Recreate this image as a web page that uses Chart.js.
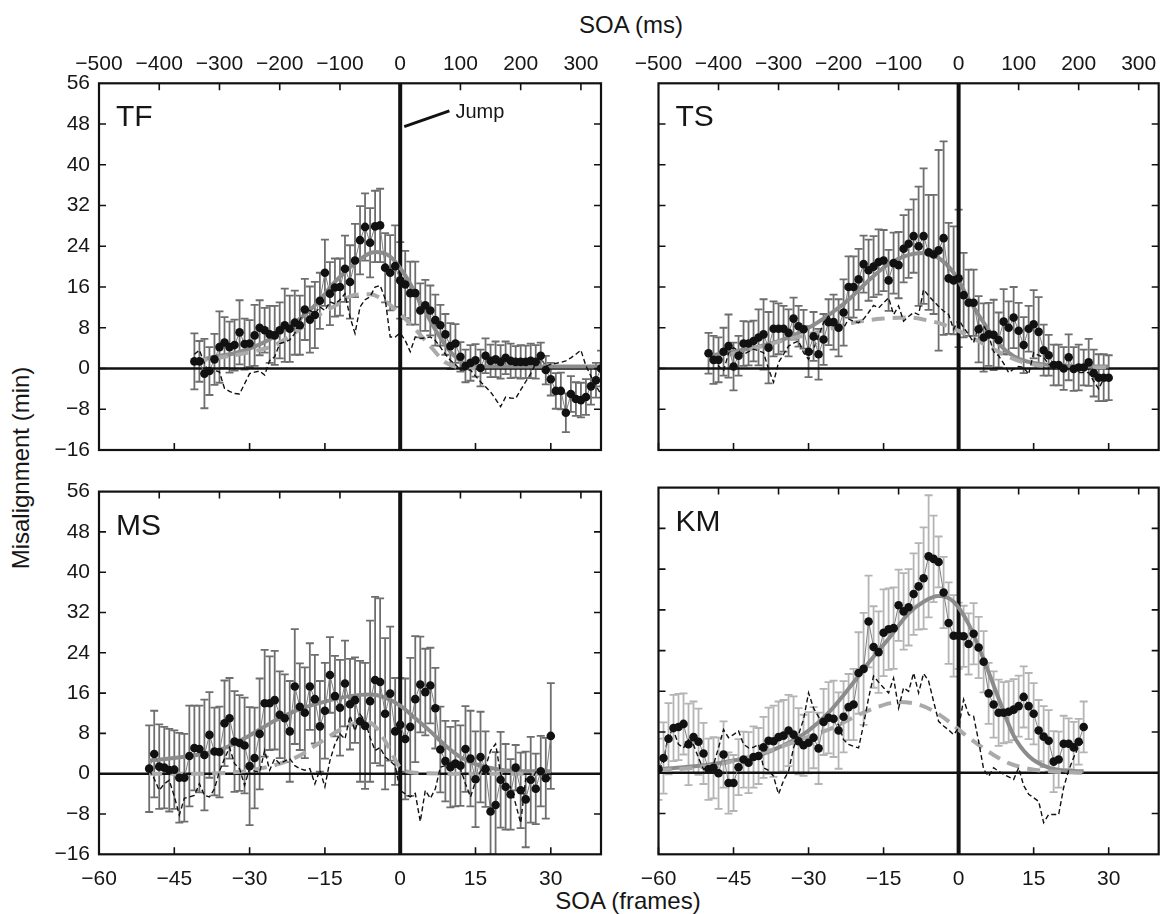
<!DOCTYPE html>
<html>
<head>
<meta charset="utf-8">
<script src="https://cdn.jsdelivr.net/npm/chart.js@4.4.1/dist/chart.umd.min.js"></script>
<style>
  body { margin: 0; background: #fff; width: 1163px; height: 914px; overflow: hidden; position: relative;
         font-family: "Liberation Sans", Arial, sans-serif; color: #161616; }
  canvas { position: absolute; }
  .ttl { position: absolute; font-size: 24px; white-space: nowrap; transform: translate(-50%, -50%); }
  .ylab { transform: translate(-50%, -50%) rotate(-90deg); }
</style>
</head>
<body>
<div class="ttl" style="left:631px; top:25px;">SOA (ms)</div>
<div class="ttl" style="left:628px; top:901px;">SOA (frames)</div>
<div class="ttl ylab" style="left:21px; top:468px;">Misalignment (min)</div>

<canvas id="cTF" width="612" height="440" style="left:0; top:40px;"></canvas>
<canvas id="cTS" width="543" height="440" style="left:620px; top:40px;"></canvas>
<canvas id="cMS" width="612" height="444" style="left:0; top:470px;"></canvas>
<canvas id="cKM" width="543" height="444" style="left:620px; top:470px;"></canvas>

<script>
// axis ticks
const frameTicks = [-60, -45, -30, -15, 0, 15, 30];
const msTicks = [-500, -400, -300, -200, -100, 0, 100, 200, 300];
const yTicks = [-16, -8, 0, 8, 16, 24, 32, 40, 48, 56];
const FRAME_MS = 1000 / 120;

function range(a, b) { const out = []; for (let i = a; i <= b; i++) out.push(i); return out; }

// ---- TF ----
const tfFrames = range(-41, 40);
const tfMean = [1.4, 1.4, -1.0, -0.5, 1.8, 4.2, 5.1, 4.2, 4.6, 7.1,
  4.8, 4.9, 6.5, 8.0, 7.5, 6.7, 6.5, 7.5, 8.5, 7.8,
  9.0, 8.5, 11.6, 9.6, 10.5, 13.3, 18.8, 14.7, 15.9, 16.0,
  19.6, 17.0, 21.2, 25.2, 27.8, 24.7, 27.9, 28.1, 19.8, 18.8,
  20.1, 17.3, 16.5, 14.8, 14.8, 11.4, 12.4, 11.4, 9.5, 8.5,
  6.7, 4.4, 4.9, 2.3, 0.5, 1.1, 1.6, 0.1, 2.5, 1.5,
  1.8, 1.3, 2.1, 1.5, 1.3, 1.3, 1.3, 1.5, 1.3, 2.5,
  -0.3, -2.1, -4.4, -4.4, -8.7, -5.0, -6.0, -6.2, -5.6, -3.5,
  -2.3, 0.0];
const tfErr = [5.5, 4.0, 6.8, 4.7, 5.0, 7.0, 5.0, 5.0, 5.0, 6.3,
  5.0, 4.6, 6.0, 5.4, 4.4, 5.6, 5.8, 5.5, 7.2, 6.5,
  6.3, 5.8, 6.0, 6.5, 6.5, 5.5, 6.5, 6.2, 5.7, 5.6,
  6.5, 7.2, 7.2, 6.7, 6.6, 6.8, 7.0, 7.2, 6.8, 7.4,
  8.0, 7.5, 6.6, 6.2, 6.2, 5.3, 5.0, 4.9, 5.0, 4.0,
  4.0, 4.5, 3.8, 2.9, 3.2, 3.5, 3.2, 3.6, 3.4, 3.2,
  3.5, 3.3, 3.2, 3.4, 3.1, 3.3, 3.2, 3.4, 3.3, 2.6,
  2.8, 3.2, 3.5, 3.6, 3.8, 3.5, 3.3, 3.4, 3.5, 3.6,
  3.4, 3.5];
const tfRaw = [2.8, 3.6, 1.0, -1.0, -0.3, -0.7, -3.9, -4.5, -4.9, -5.0,
  -3.0, -1.0, -0.7, -0.5, -1.3, 1.6, 2.3, 4.9, 5.2, 5.6,
  6.9, 9.5, 11.4, 11.4, 10.8, 12.1, 11.4, 13.1, 12.7, 13.5,
  14.7, 10.1, 6.9, 12.1, 13.5, 14.1, 16.0, 16.3, 13.7, 6.2,
  6.2, 7.0, 5.5, 3.3, 6.2, 5.9, 6.0, 6.2, 5.5, 4.2,
  2.8, 1.6, 0.8, -0.3, -0.3, -0.3, -1.5, -2.6, -3.6, -4.6,
  -6.0, -7.5, -5.6, -5.8, -5.9, -4.2, -2.6, -1.0, 1.0, 2.0,
  0.5, 0.8, 1.0, 1.2, 1.5, 2.1, 2.8, 3.6, 0.5, -1.5,
  -3.5, -5.0];
const tfFitX = [-41, -37, -33, -29, -25, -21, -17, -13, -9, -5, -2, 1, 4, 7, 10, 13, 16, 20, 25, 30, 35, 40];
const tfFit = [1.3, 2.3, 3.0, 4.3, 6.3, 9.0, 12.4, 17.0, 20.7, 22.9, 22.0, 18.3, 13.0, 7.6, 3.3, 0.9, 0.4, 0.4, 0.4, 0.4, 0.4, 0.4];
const tfModelX = [-41, -37, -33, -29, -25, -21, -17, -13, -9, -6, -3, 0, 3, 6, 9, 12, 15];
const tfModel = [1.3, 2.0, 2.6, 3.4, 4.6, 7.0, 10.0, 12.3, 14.5, 14.6, 13.2, 10.7, 7.7, 4.4, 1.2, 0.2, 0.0];

// ---- TS ----
const tsFrames = range(-50, 30);
const tsMean = [3.0, 1.7, 1.7, 3.3, 4.4, 0.4, 2.5, 4.9, 4.9, 5.4,
  6.1, 6.7, 4.1, 7.8, 7.8, 7.8, 7.0, 9.8, 8.3, 7.7,
  3.3, 6.3, 2.8, 5.7, 9.1, 9.1, 8.0, 11.0, 16.0, 16.0,
  17.5, 20.5, 19.3, 20.0, 20.9, 21.2, 17.3, 20.7, 20.3, 23.5,
  24.5, 26.0, 24.0, 26.0, 22.8, 22.4, 23.2, 25.6, 17.7, 17.3,
  17.7, 14.4, 12.9, 12.9, 7.7, 6.1, 6.7, 6.6, 5.6, 9.2,
  8.0, 10.0, 7.4, 4.6, 7.8, 8.7, 7.2, 3.6, 2.6, 0.7,
  0.7, 0.0, 2.2, -0.1, 0.2, 0.2, 1.2, -0.9, -1.8, -1.8,
  -1.8];
const tsErr = [4.0, 4.7, 4.4, 4.7, 6.2, 4.7, 3.9, 4.4, 4.3, 4.0,
  5.5, 6.9, 7.0, 5.4, 5.0, 4.5, 4.6, 4.1, 4.0, 3.8,
  5.0, 4.8, 5.0, 5.0, 4.5, 5.4, 5.6, 6.5, 6.0, 6.0,
  6.0, 5.6, 6.0, 6.0, 6.4, 6.0, 6.0, 6.0, 6.5, 6.6,
  6.7, 7.2, 11.7, 13.3, 11.3, 11.7, 19.7, 19.0, 10.9, 10.6,
  13.5, 8.3, 6.5, 6.5, 6.5, 6.7, 6.2, 6.9, 5.4, 6.4,
  5.2, 6.0, 5.5, 5.5, 4.5, 6.7, 6.8, 5.0, 4.0, 4.0,
  4.0, 4.2, 4.5, 4.3, 4.5, 3.5, 4.6, 4.6, 4.6, 4.6,
  4.4];
const tsRaw = [3.1, 1.5, 0.5, -0.5, 3.0, 4.1, 3.5, 2.8, 3.3, 3.8,
  3.5, 3.1, -0.1, -2.7, 1.2, 2.8, 4.4, 5.0, 5.4, 3.1,
  1.8, 3.8, 6.4, 9.0, 10.3, 9.0, 8.5, 8.0, 9.7, 9.3,
  9.0, 9.7, 11.0, 12.4, 11.9, 12.9, 13.9, 10.6, 12.3, 9.3,
  10.2, 11.0, 10.6, 15.5, 14.3, 13.2, 12.2, 11.3, 10.6, 7.7,
  9.7, 8.0, 6.7, 5.1, 8.5, 8.5, 6.5, 3.3, 2.5, 1.0,
  -0.8, -0.1, 0.4, 0.2, -1.1, 3.1, 2.6, 2.2, 0.8, 0.7,
  0.6, 0.5, 0.0, -0.5, -0.8, -0.8, -0.8, -2.5, -4.0, -2.0,
  -0.8];
const tsFitX = [-50, -45, -40, -35, -30, -26, -22, -18, -14, -10, -7, -4, -1, 2, 5, 8, 11, 14, 18, 22, 26, 30];
const tsFit = [2.5, 3.3, 4.3, 5.7, 8.0, 10.5, 13.5, 17.3, 20.5, 22.3, 22.7, 21.7, 18.8, 13.7, 9.0, 4.9, 2.4, 1.3, 0.7, 0.5, 0.4, 0.4];
const tsModelX = [-50, -45, -40, -35, -30, -25, -20, -15, -10, -6, -3, 0, 3, 6, 9, 12, 15, 20, 25, 30];
const tsModel = [1.8, 2.9, 4.2, 5.5, 6.7, 8.0, 9.2, 9.8, 10.0, 9.4, 8.6, 7.4, 5.9, 4.3, 2.8, 1.5, 0.8, 0.3, 0.2, 0.2];

// ---- MS ----
const msFrames = range(-50, 30);
const msMean = [1.0, 3.9, 1.4, 1.2, 0.7, 0.8, -0.8, -0.8, 3.5, 5.1,
  4.9, 3.7, 7.7, 4.4, 4.3, 10.0, 11.0, 6.4, 6.1, 5.6,
  1.5, 3.1, 7.9, 14.0, 14.0, 14.6, 11.7, 11.0, 8.4, 17.3,
  13.3, 12.1, 17.3, 14.8, 9.4, 12.5, 19.6, 15.4, 13.1, 17.9,
  13.8, 14.6, 10.4, 9.5, 14.4, 18.6, 18.2, 11.9, 15.9, 8.4,
  9.7, 6.9, 9.3, 14.8, 17.7, 16.2, 17.5, 13.0, 4.8, 2.5,
  1.3, 2.0, 1.6, 4.9, 3.0, -1.1, 3.3, 0.9, -7.5, -6.2,
  -1.2, -2.6, -4.1, 1.2, -3.3, -5.1, -1.2, -3.0, 0.5, -0.9,
  7.5];
const msErr = [8.6, 8.6, 8.4, 8.1, 8.2, 7.8, 8.9, 8.7, 10.0, 8.4,
  8.6, 11.0, 8.5, 8.7, 9.0, 8.5, 8.0, 10.0, 9.5, 9.5,
  11.7, 10.0, 11.0, 10.6, 9.3, 9.8, 8.6, 8.7, 10.0, 11.4,
  8.6, 9.0, 8.6, 8.8, 9.0, 9.5, 7.5, 8.0, 9.5, 8.5,
  9.0, 8.5, 12.0, 12.5, 16.0, 16.5, 16.6, 15.0, 13.3, 10.6,
  9.3, 12.0, 13.7, 12.5, 9.5, 8.6, 7.5, 8.0, 8.5, 8.0,
  8.0, 8.5, 8.0, 8.5, 9.5, 9.5, 9.0, 7.5, 8.5, 10.5,
  9.5, 8.5, 7.0, 4.5, 7.5, 9.5, 8.5, 7.0, 7.0, 8.0,
  10.5];
const msRaw = [0.7, -1.0, -3.3, -2.0, -1.3, -4.5, -8.2, -4.9, -4.6, -4.3,
  -2.0, -4.3, -4.6, -3.0, 0.5, 3.0, 5.2, 2.0, 1.0, -2.3,
  1.0, 0.5, 0.3, 4.6, 0.7, 3.0, 2.0, 2.5, 3.0, 1.6,
  1.0, 0.7, 1.0, -2.0, 0.7, -2.6, 2.6, 5.9, 7.9, 6.9,
  11.5, 8.5, 11.8, 10.5, 7.2, 4.6, 5.2, 3.3, 2.5, 1.6,
  -3.3, -4.0, -4.6, -3.9, -9.5, -3.3, -4.9, -3.0, 1.3, 1.6,
  2.2, 2.6, 1.0, -2.0, -4.6, -1.6, 0.5, 1.3, 4.6, 5.9,
  0.0, -3.3, -2.6, -6.0, -9.8, -1.0, -1.6, 0.3, 0.0, -0.5,
  -1.0];
const msFitX = [-50, -45, -40, -35, -30, -25, -20, -15, -10, -6, -3, 0, 3, 6, 9, 12, 15, 20, 25, 30];
const msFit = [2.6, 3.1, 3.8, 5.1, 7.6, 10.5, 12.8, 14.3, 15.4, 15.7, 15.1, 13.5, 11.0, 8.4, 5.6, 3.3, 1.9, 0.8, 0.5, 0.5];
const msModelX = [-50, -40, -36, -32, -28, -24, -20, -16, -12, -9, -7, -5, -3, -1, 0, 2, 5, 10, 20, 30];
const msModel = [0.0, 0.0, 0.1, 0.4, 1.0, 2.0, 3.6, 6.2, 8.7, 10.0, 10.4, 9.4, 6.5, 2.8, 1.2, 0.3, 0.1, 0.0, 0.0, 0.0];

// ---- KM ----
const kmFrames = range(-60, 25);
const kmMean = [0.7, 2.9, 6.7, 8.8, 9.0, 9.6, 5.6, 7.0, 6.1, 3.8,
  0.7, 1.0, -0.1, 3.6, -2.0, -2.0, 1.1, 2.6, 2.0, 3.1,
  3.3, 5.0, 6.3, 6.2, 7.0, 7.3, 8.3, 7.5, 6.2, 5.4,
  5.9, 6.9, 4.8, 10.0, 10.8, 10.6, 8.3, 11.0, 12.9, 13.4,
  19.6, 20.4, 29.7, 24.7, 23.7, 27.5, 28.2, 28.4, 32.9, 31.7,
  32.5, 35.1, 36.6, 38.2, 42.5, 42.0, 41.4, 35.4, 29.4, 26.9,
  26.9, 26.8, 25.3, 27.3, 24.6, 21.8, 15.6, 13.4, 11.8, 11.8,
  12.0, 12.4, 13.1, 14.9, 13.1, 11.6, 8.3, 7.1, 6.3, 2.2,
  2.6, 5.7, 5.7, 5.0, 6.1, 9.0];
const kmErr = [6.0, 7.0, 7.0, 6.5, 6.5, 6.0, 8.0, 7.0, 6.5, 6.0,
  6.0, 6.0, 7.0, 6.5, 6.0, 5.5, 5.5, 5.5, 6.0, 6.0,
  5.5, 6.0, 6.5, 7.0, 7.0, 7.0, 7.0, 7.5, 6.5, 6.0,
  6.0, 6.0, 7.0, 6.5, 7.0, 7.5, 7.5, 7.0, 6.5, 7.0,
  8.0, 11.0, 9.0, 8.0, 8.0, 8.5, 8.0, 8.0, 7.0, 7.5,
  7.5, 8.0, 8.5, 10.0, 12.0, 8.5, 5.0, 7.0, 8.0, 8.0,
  6.5, 6.0, 6.0, 6.0, 6.0, 6.0, 6.0, 6.5, 6.5, 6.0,
  6.0, 6.0, 6.0, 6.0, 6.5, 6.0, 6.0, 6.0, 6.0, 6.0,
  5.5, 5.5, 5.0, 5.0, 4.5, 5.0];
const kmRaw = [0.7, 2.0, 7.8, 8.2, 5.6, 4.9, 6.5, 5.5, 2.9, 0.7,
  1.2, 1.6, 4.9, 8.5, 6.9, 7.5, 8.2, 5.6, 4.9, 5.0,
  5.6, 1.0, 0.5, -0.7, -4.2, -1.5, 0.3, 4.9, 7.5, 10.5,
  15.7, 12.7, 11.0, 9.5, 10.8, 9.9, 9.5, 6.5, 5.6, 5.2,
  4.9, 9.5, 14.7, 19.0, 17.8, 16.7, 15.7, 18.6, 12.7, 16.7,
  16.0, 19.6, 15.7, 19.5, 18.0, 14.0, 10.1, 9.2, 8.4, 7.5,
  8.8, 14.4, 11.4, 11.1, 6.2, 0.7, -0.7, 1.0, 0.3, -0.3,
  -0.8, -1.3, 1.0, -2.5, -4.2, -4.9, -5.6, -9.8, -8.2, -8.2,
  -8.2, -2.9, 0.5, 3.0, 5.2, 6.2];
const kmFitX = [-60, -55, -50, -45, -40, -35, -30, -26, -22, -18, -14, -10, -7, -4, -1, 2, 5, 8, 11, 14, 18, 22, 25];
const kmFit = [0.7, 1.1, 1.6, 2.4, 3.4, 5.4, 8.3, 11.8, 16.5, 21.6, 26.3, 31.3, 33.6, 34.7, 33.6, 29.2, 22.3, 14.6, 7.3, 3.3, 1.0, 0.4, 0.3];
const kmModelX = [-60, -55, -50, -45, -40, -35, -30, -25, -20, -16, -12, -8, -5, -2, 1, 4, 7, 10, 14, 18, 22, 25];
const kmModel = [0.5, 0.8, 1.3, 2.3, 3.7, 5.3, 7.1, 8.9, 11.4, 13.0, 13.9, 13.4, 12.1, 10.1, 7.7, 5.5, 3.5, 1.9, 0.8, 0.3, 0.1, 0.0];

const FONT = '"Liberation Sans", Arial, sans-serif';
Chart.defaults.font.family = FONT;
const tickFont = { family: FONT, size: 21 };
const fmt = v => String(v).replace('-', '\u2212');

const panelPlugin = {
  id: 'panel',
  beforeDatasetsDraw(chart, args, o) {
    const { ctx, chartArea: a, scales: { x, y } } = chart;
    ctx.save();
    ctx.beginPath();
    ctx.rect(a.left, a.top, a.right - a.left, a.bottom - a.top);
    ctx.clip();
    // error bars
    ctx.strokeStyle = o.errColor;
    ctx.lineWidth = 1.8;
    o.frames.forEach((f, i) => {
      const px = x.getPixelForValue(f);
      const hi = y.getPixelForValue(o.mean[i] + o.err[i]);
      const lo = y.getPixelForValue(o.mean[i] - o.err[i]);
      ctx.beginPath();
      ctx.moveTo(px, hi); ctx.lineTo(px, lo);
      ctx.moveTo(px - 4, hi); ctx.lineTo(px + 4, hi);
      ctx.moveTo(px - 4, lo); ctx.lineTo(px + 4, lo);
      ctx.stroke();
    });
    // zero lines
    ctx.strokeStyle = '#111';
    ctx.lineWidth = 2.6;
    const y0 = y.getPixelForValue(0);
    ctx.beginPath(); ctx.moveTo(a.left, y0); ctx.lineTo(a.right, y0); ctx.stroke();
    ctx.lineWidth = 4;
    const x0 = x.getPixelForValue(0);
    ctx.beginPath(); ctx.moveTo(x0, a.top); ctx.lineTo(x0, a.bottom); ctx.stroke();
    ctx.restore();
  },
  afterDatasetsDraw(chart, args, o) {
    const { ctx, chartArea: a, scales: { x, x2, y } } = chart;
    ctx.save();
    ctx.strokeStyle = '#111';
    // inner tick marks
    ctx.lineWidth = 1.6;
    const tl = 7;
    ctx.beginPath();
    frameTicks.forEach(v => {
      if (v === 0) return;
      const px = x.getPixelForValue(v);
      ctx.moveTo(px, a.bottom); ctx.lineTo(px, a.bottom - tl);
    });
    msTicks.forEach(v => {
      if (v === 0 || v === -500) return;
      const px = x2.getPixelForValue(v);
      ctx.moveTo(px, a.top); ctx.lineTo(px, a.top + tl);
    });
    yTicks.forEach(v => {
      if (v === -16 || v === 56) return;
      const py = y.getPixelForValue(v);
      ctx.moveTo(a.left, py); ctx.lineTo(a.left + tl, py);
      ctx.moveTo(a.right, py); ctx.lineTo(a.right - tl, py);
    });
    ctx.stroke();
    // box
    ctx.lineWidth = 2.2;
    ctx.strokeRect(a.left, a.top, a.right - a.left, a.bottom - a.top);
    // panel label
    ctx.fillStyle = '#161616';
    ctx.font = '30px ' + FONT;
    ctx.textBaseline = 'alphabetic';
    ctx.fillText(o.label, a.left + 17, a.top + 43);
    // "Jump" note
    if (o.jump) {
      ctx.lineWidth = 3;
      ctx.beginPath();
      ctx.moveTo(x.getPixelForValue(0.8), y.getPixelForValue(47.5));
      ctx.lineTo(x.getPixelForValue(9.8), y.getPixelForValue(50.6));
      ctx.stroke();
      ctx.font = '20px ' + FONT;
      ctx.textBaseline = 'middle';
      ctx.fillText('Jump', x.getPixelForValue(11), y.getPixelForValue(50.3));
    }
    ctx.restore();
  }
};

const pts = (xs, ys) => xs.map((v, i) => ({ x: v, y: ys[i] }));

function panel(id, p) {
  new Chart(document.getElementById(id), {
    type: 'line',
    data: {
      datasets: [
        { data: pts(p.frames, p.mean), borderColor: '#808080', borderWidth: 1,
          pointRadius: 4.3, pointBackgroundColor: '#111', pointBorderWidth: 0, order: 0 },
        { data: pts(p.frames, p.raw), borderColor: '#111', borderWidth: 1.4, borderDash: [5, 3],
          pointRadius: 0, order: 1 },
        { data: pts(p.modelX, p.model), borderColor: '#aaaaaa', borderWidth: 4, borderDash: [13, 8],
          pointRadius: 0, cubicInterpolationMode: 'monotone', order: 2 },
        { data: pts(p.fitX, p.fit), borderColor: '#8c8c8c', borderWidth: 4,
          pointRadius: 0, cubicInterpolationMode: 'monotone', order: 3 }
      ]
    },
    options: {
      responsive: false,
      animation: false,
      events: [],
      layout: { padding: { left: 0, top: 0, right: p.padR, bottom: 0 } },
      plugins: {
        legend: { display: false },
        tooltip: { enabled: false },
        panel: { label: p.label, frames: p.frames, mean: p.mean, err: p.err,
                 errColor: p.errColor, jump: !!p.jump }
      },
      scales: {
        x: {
          type: 'linear', position: 'bottom', min: -60, max: 40,
          afterBuildTicks: s => { s.ticks = frameTicks.map(v => ({ value: v })); },
          afterFit: s => { s.height = p.bottomH; },
          grid: { display: false, drawTicks: false }, border: { display: false },
          ticks: { display: p.showBottom, padding: 12, color: '#161616', font: tickFont,
                   maxRotation: 0, minRotation: 0, autoSkip: false, callback: v => fmt(v) }
        },
        x2: {
          type: 'linear', position: 'top', min: -500, max: 40 * FRAME_MS,
          afterBuildTicks: s => { s.ticks = msTicks.map(v => ({ value: v })); },
          afterFit: s => { s.height = p.topH; },
          grid: { display: false, drawTicks: false }, border: { display: false },
          ticks: { display: p.showTop, padding: 6, color: '#161616', font: tickFont,
                   maxRotation: 0, minRotation: 0, autoSkip: false, callback: v => fmt(v) }
        },
        y: {
          type: 'linear', position: 'left', min: -16, max: 56,
          afterBuildTicks: s => { s.ticks = yTicks.map(v => ({ value: v })); },
          afterFit: s => { s.width = p.leftW; },
          grid: { display: false, drawTicks: false }, border: { display: false },
          ticks: { display: p.showLeft, padding: 9, color: '#161616', font: tickFont,
                   callback: v => fmt(v) }
        }
      }
    },
    plugins: [panelPlugin]
  });
}

panel('cTF', { label: 'TF', frames: tfFrames, mean: tfMean, err: tfErr, raw: tfRaw,
  fitX: tfFitX, fit: tfFit, modelX: tfModelX, model: tfModel, errColor: '#6e6e6e', jump: true,
  showTop: true, showBottom: false, showLeft: true, leftW: 99, topH: 43.3, bottomH: 30, padR: 11 });
panel('cTS', { label: 'TS', frames: tsFrames, mean: tsMean, err: tsErr, raw: tsRaw,
  fitX: tsFitX, fit: tsFit, modelX: tsModelX, model: tsModel, errColor: '#6e6e6e',
  showTop: true, showBottom: false, showLeft: false, leftW: 38.5, topH: 43.3, bottomH: 30, padR: 2 });
panel('cMS', { label: 'MS', frames: msFrames, mean: msMean, err: msErr, raw: msRaw,
  fitX: msFitX, fit: msFit, modelX: msModelX, model: msModel, errColor: '#6e6e6e',
  showTop: false, showBottom: true, showLeft: true, leftW: 99, topH: 17.6, bottomH: 59.7, padR: 11 });
panel('cKM', { label: 'KM', frames: kmFrames, mean: kmMean, err: kmErr, raw: kmRaw,
  fitX: kmFitX, fit: kmFit, modelX: kmModelX, model: kmModel, errColor: '#b4b4b4',
  showTop: false, showBottom: true, showLeft: false, leftW: 38.5, topH: 17.6, bottomH: 59.7, padR: 2 });
</script>
</body>
</html>
